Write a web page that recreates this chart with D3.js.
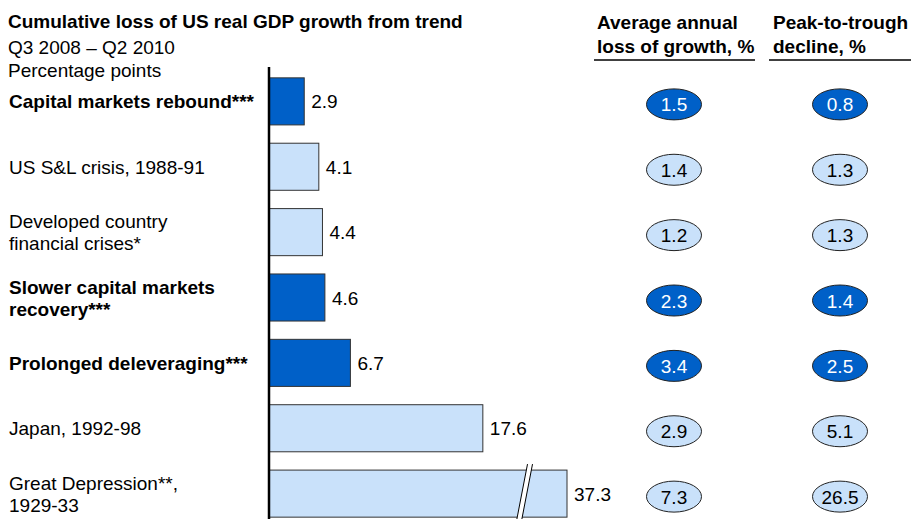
<!DOCTYPE html>
<html>
<head>
<meta charset="utf-8">
<script src="https://cdn.jsdelivr.net/npm/d3@7"></script>
<style>
  body { margin: 0; background: #fff; }
  text { font-family: "Liberation Sans", Arial, sans-serif; }
</style>
</head>
<body>
<div id="chart"></div>
<script>
// data
let categories = [
  ["Capital markets rebound***"],
  ["US S&L crisis, 1988-91"],
  ["Developed country", "financial crises*"],
  ["Slower capital markets", "recovery***"],
  ["Prolonged deleveraging***"],
  ["Japan, 1992-98"],
  ["Great Depression**,", "1929-33"]
];
let scenario = [true, false, false, true, true, false, false];
let cumulativeLoss = [2.9, 4.1, 4.4, 4.6, 6.7, 17.6, 37.3];
let avgAnnualLoss = ["1.5", "1.4", "1.2", "2.3", "3.4", "2.9", "7.3"];
let peakToTrough = ["0.8", "1.3", "1.3", "1.4", "2.5", "5.1", "26.5"];

let colors = { dark: "#0060C8", light: "#C9E1FA" };

let width = 911, height = 519;
let svg = d3.select("#chart").append("svg")
  .attr("width", width)
  .attr("height", height);

//titles
svg.append("text").attr("x", 8).attr("y", 28)
  .style("font-size", "19px").style("font-weight", "bold")
  .text("Cumulative loss of US real GDP growth from trend");
svg.append("text").attr("x", 8).attr("y", 54)
  .style("font-size", "19px").text("Q3 2008 \u2013 Q2 2010");
svg.append("text").attr("x", 8).attr("y", 77)
  .style("font-size", "19px").text("Percentage points");

let heads = [
  { x: 597, lines: ["Average annual", "loss of growth, %"], x1: 594, x2: 755 },
  { x: 773, lines: ["Peak-to-trough", "decline, %"], x1: 769, x2: 911 }
];
heads.forEach(h => {
  h.lines.forEach((l, i) => {
    svg.append("text").attr("x", h.x).attr("y", 29 + i * 24)
      .style("font-size", "19px").style("font-weight", "bold").text(l);
  });
  svg.append("line").attr("x1", h.x1).attr("x2", h.x2)
    .attr("y1", 60).attr("y2", 60)
    .attr("stroke", "#000").attr("stroke-width", 1.5);
});

//scales
let x = d3.scaleLinear()
  .domain([0, 20, d3.max(cumulativeLoss)])
  .range([269, 512, 567]);
let y = d3.scaleBand()
  .domain(d3.range(categories.length))
  .range([70, 525])
  .paddingInner(0.28)
  .paddingOuter(0.12);

//bars
svg.selectAll(".bar")
  .data(cumulativeLoss)
  .enter().append("rect")
  .attr("class", "bar")
  .attr("x", x(0))
  .attr("y", (d, i) => y(i))
  .attr("width", d => x(d) - x(0))
  .attr("height", y.bandwidth())
  .attr("fill", (d, i) => scenario[i] ? colors.dark : colors.light)
  .attr("stroke", "#333")
  .attr("stroke-width", 1);

//break mark on the long bar
let last = cumulativeLoss.length - 1;
let by0 = y(last) - 6, by1 = height + 2;
let bx = 522;
let slant = 11;
svg.append("path")
  .attr("d", `M${bx + slant / 2},${by0} L${bx + slant / 2 + 5},${by0} L${bx - slant / 2 + 5},${by1} L${bx - slant / 2},${by1} Z`)
  .attr("fill", "#fff");
[0, 5].forEach(o => {
  svg.append("line")
    .attr("x1", bx + slant / 2 + o).attr("y1", by0)
    .attr("x2", bx - slant / 2 + o).attr("y2", by1)
    .attr("stroke", "#000").attr("stroke-width", 1);
});

//value labels
svg.selectAll(".val")
  .data(cumulativeLoss)
  .enter().append("text")
  .attr("class", "val")
  .attr("x", d => x(d) + 7)
  .attr("y", (d, i) => y(i) + y.bandwidth() / 2 + 7)
  .style("font-size", "19px")
  .text(d => d.toFixed(1));

//axis line
svg.append("line")
  .attr("x1", x(0)).attr("x2", x(0))
  .attr("y1", 67).attr("y2", height)
  .attr("stroke", "#000").attr("stroke-width", 2.5);

//category labels
categories.forEach((lines, i) => {
  let cy = y(i) + y.bandwidth() / 2;
  let t0 = cy + 7 - (lines.length - 1) * 11;
  lines.forEach((l, j) => {
    svg.append("text")
      .attr("x", 9).attr("y", t0 + j * 22)
      .style("font-size", "19px")
      .style("font-weight", scenario[i] ? "bold" : "normal")
      .text(l);
  });
});

//ellipses
[{ cx: 674, vals: avgAnnualLoss }, { cx: 840, vals: peakToTrough }].forEach(col => {
  let g = svg.append("g");
  col.vals.forEach((v, i) => {
    let cy = y(i) + y.bandwidth() / 2 + 3;
    g.append("ellipse")
      .attr("cx", col.cx).attr("cy", cy)
      .attr("rx", 27.5).attr("ry", 15.5)
      .attr("fill", scenario[i] ? colors.dark : colors.light)
      .attr("stroke", "#222").attr("stroke-width", 1);
    g.append("text")
      .attr("x", col.cx).attr("y", cy + 7)
      .attr("text-anchor", "middle")
      .style("font-size", "19px")
      .attr("fill", scenario[i] ? "#fff" : "#000")
      .text(v);
  });
});
</script>
</body>
</html>
